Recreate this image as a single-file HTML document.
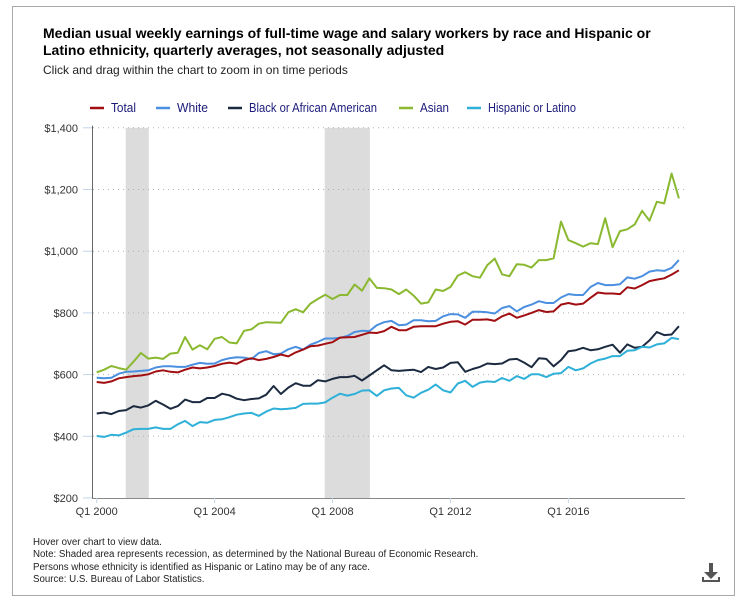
<!DOCTYPE html>
<html><head><meta charset="utf-8"><style>
body{margin:0;background:#fff;font-family:"Liberation Sans",sans-serif;}
#wrap{position:relative;width:747px;height:611px;overflow:hidden;}
#box{position:absolute;left:12px;top:6px;width:723px;height:590px;border:1px solid #a8a8a8;box-sizing:border-box;}
.t{position:absolute;left:43px;font-size:14px;font-weight:bold;color:#000;line-height:17px;}
.sub{position:absolute;left:43px;top:63px;font-size:12px;color:#222;}
.foot{position:absolute;left:33px;font-size:10px;color:#222;transform:scaleX(0.97);transform-origin:left top;white-space:nowrap;}
</style></head><body>
<div id="wrap">
<div id="box"></div>
<div class="t" style="top:25px">Median usual weekly earnings of full-time wage and salary workers by race and Hispanic or<br>Latino ethnicity, quarterly averages, not seasonally adjusted</div>
<div class="sub">Click and drag within the chart to zoom in on time periods</div>
<svg id="chart" width="747" height="611" style="position:absolute;left:0;top:0"></svg>
<div class="foot" style="top:537px">Hover over chart to view data.</div>
<div class="foot" style="top:549px">Note: Shaded area represents recession, as determined by the National Bureau of Economic Research.</div>
<div class="foot" style="top:562px">Persons whose ethnicity is identified as Hispanic or Latino may be of any race.</div>
<div class="foot" style="top:574px">Source: U.S. Bureau of Labor Statistics.</div>
<svg width="20" height="22" style="position:absolute;left:701px;top:562px">
<rect x="8" y="1" width="4" height="10" fill="#555"/><polygon points="3,10 17,10 10,17" fill="#555"/><rect x="1" y="18" width="18" height="2" fill="#555"/><rect x="1" y="15" width="2" height="4" fill="#555"/><rect x="17" y="15" width="2" height="4" fill="#555"/></svg>
</div>
<script>
const seriesNames=["Total","White","Black or African American","Asian","Hispanic or Latino"];
const seriesColors=["#a10f12","#4a8fe0","#1c2a40","#8ab82f","#2eb0d8"];
const total=[576,573,578,588,592,595,597,601,610,614,609,607,616,623,620,623,628,635,639,635,647,653,647,651,657,665,659,672,681,692,694,700,705,720,721,722,729,736,735,741,
755,744,744,755,757,757,757,765,771,773,762,778,778,779,774,789,798,784,792,800,809,803,805,827,832,827,830,849,866,863,863,861,883,879,890,903,908,912,924,938];
const white=[590,588,590,603,609,610,612,614,623,627,627,625,625,632,638,635,636,647,653,656,655,650,670,676,666,668,682,690,681,697,706,717,717,719,725,738,742,741,760,770,
774,760,762,776,776,773,774,789,796,795,784,804,804,802,798,816,822,805,819,827,838,832,832,850,861,858,858,884,897,890,890,893,915,911,919,934,938,936,946,971];
const black=[474,477,472,482,485,498,493,500,515,503,489,498,519,511,511,524,524,538,533,522,517,521,523,535,563,537,558,572,564,564,582,578,586,592,592,596,581,597,614,630,
614,612,614,616,608,625,618,623,638,640,609,618,625,636,634,636,649,651,639,624,653,651,627,647,676,679,687,679,682,690,697,671,698,687,690,711,738,728,730,757];
const asian=[607,616,628,621,616,642,670,652,655,651,668,671,722,681,695,682,716,722,704,701,742,747,765,770,769,768,802,812,802,830,845,859,845,858,858,892,872,912,881,880,
876,861,876,856,830,834,876,871,884,921,932,919,914,955,976,925,919,958,956,947,971,971,977,1096,1036,1026,1015,1026,1023,1107,1013,1065,1071,1087,1131,1099,1160,1155,1252,1171];
const hispanic=[401,398,405,403,412,423,424,424,429,424,424,439,450,433,446,444,453,455,462,470,474,476,466,480,490,488,489,492,505,506,506,510,525,538,532,537,548,549,531,549,
555,557,533,525,541,551,568,549,542,571,580,560,574,578,576,589,580,595,586,601,601,592,603,605,625,614,620,636,647,652,660,660,677,679,690,688,698,701,719,715];
const yTicks=[200,400,600,800,1000,1200,1400];
const yTickLabels=["$200","$400","$600","$800","$1,000","$1,200","$1,400"];
const xTickIdx=[0,16,32,48,64];
const xTickLabels=["Q1 2000","Q1 2004","Q1 2008","Q1 2012","Q1 2016"];
const recessions=[[4,7],[31,37]];

const NS="http://www.w3.org/2000/svg";
const svg=document.getElementById('chart');
const x0=96.7,dx=7.37,yBase=498,yScale=0.3085;
const X=i=>x0+i*dx;
const Y=v=>yBase-(v-200)*yScale;
function mk(tag,attrs){const e=document.createElementNS(NS,tag);for(const k in attrs)e.setAttribute(k,attrs[k]);svg.appendChild(e);return e;}
recessions.forEach(r=>{
  const e=mk('rect',{x:X(r[0])-0.5,y:Y(1400),width:X(r[1])-X(r[0])+1,height:Y(200)-Y(1400),fill:'#dcdcdc'});
  
  
});
yTicks.forEach((v,k)=>{
  if(v>200){const g=mk('line',{x1:93,x2:684,y1:Y(v),y2:Y(v),stroke:'#b0b0b0','stroke-dasharray':'1,4'});
  
  }
  const tk=mk('line',{x1:83,x2:92,y1:Y(v),y2:Y(v),stroke:'#c5d4e8'});
  
  
  const t=mk('text',{x:78,y:Y(v)+4,'text-anchor':'end','font-size':11,fill:'#333','font-family':'Liberation Sans, sans-serif'});
  t.textContent=yTickLabels[k];
  
  
});
const ya=mk('line',{x1:92.5,x2:92.5,y1:Y(1400)-2,y2:Y(200),stroke:'#666'});


const xa=mk('line',{x1:92,x2:685,y1:Y(200)+0.5,y2:Y(200)+0.5,stroke:'#888'});


xTickIdx.forEach((i,k)=>{
  const tk=mk('line',{x1:X(i),x2:X(i),y1:Y(200),y2:Y(200)+5,stroke:'#c5d4e8'});
  
  
  const t=mk('text',{x:X(i),y:515,'text-anchor':'middle','font-size':11,fill:'#333','font-family':'Liberation Sans, sans-serif'});
  t.textContent=xTickLabels[k];
  
  
});
const allSeries=[total,white,black,asian,hispanic];
const order=[3,1,0,2,4];
order.forEach(s=>{
  const d=allSeries[s].map((v,i)=>(i?'L':'M')+X(i).toFixed(1)+','+Y(v).toFixed(1)).join('');
  const p=mk('path',{d:d,fill:'none',stroke:seriesColors[s],'stroke-width':2,'stroke-linejoin':'round'});
  
  
});
const legX=[90,156,228,399,467];
const legW=[25,31,128,29,88];
seriesNames.forEach((n,k)=>{
  const l=mk('line',{x1:legX[k],x2:legX[k]+14,y1:108,y2:108,stroke:seriesColors[k],'stroke-width':2.5});
  
  
  const t=mk('text',{x:legX[k]+21,y:112,'font-size':12.5,fill:'#1a1a7a','font-family':'Liberation Sans, sans-serif',textLength:legW[k],lengthAdjust:'spacingAndGlyphs'});
  t.textContent=n;
  
  
});
</script>
</body></html>
